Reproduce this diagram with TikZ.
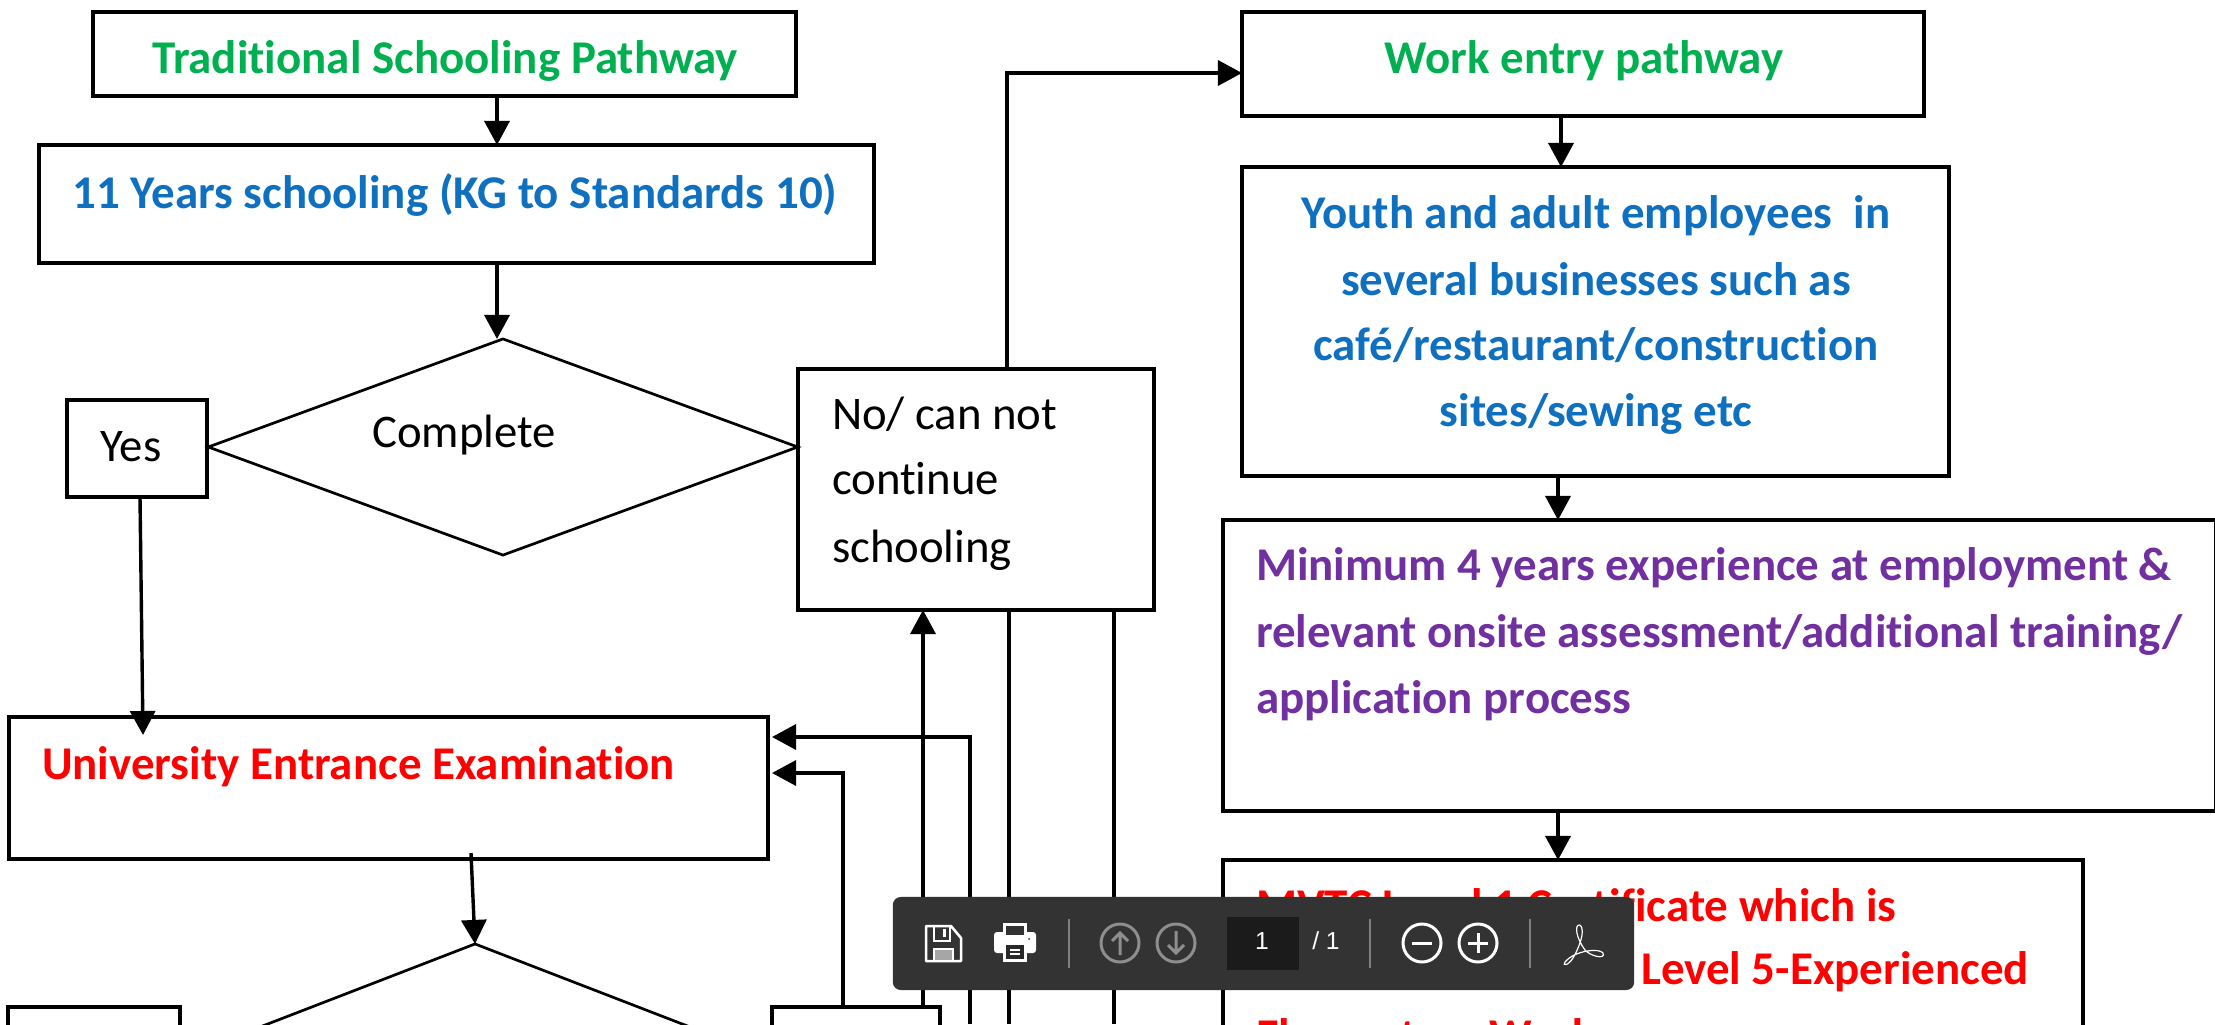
\documentclass[tikz,border=0pt]{standalone}
\usepackage{fontspec}
\setmainfont{Carlito}[Ligatures=CommonOff]
\newfontfamily\uifont{Liberation Sans}
\usetikzlibrary{arrows.meta,shapes.geometric}
\definecolor{cgreen}{HTML}{00B050}
\definecolor{cblue}{HTML}{0F70C0}
\definecolor{cpurple}{HTML}{7030A0}
\definecolor{cred}{HTML}{FF0000}
\definecolor{bar}{HTML}{333333}
\definecolor{bardark}{HTML}{1B1B1B}
\definecolor{bargrey}{HTML}{8E8E8E}
\newcommand\pxbox[5]{%
  \pgfmathsetmacro\pxw{(#4-#2)*0.01}%
  \pgfmathsetmacro\pxh{(#5-#3)*0.01}%
  \node[boxst,minimum width=\pxw cm,minimum height=\pxh cm] (#1) at ({(#2+#4)/2},{(#3+#5)/2}) {};}
\tikzset{
  x=0.01cm,y=-0.01cm,
  boxst/.style={draw=black,fill=white,line width=0.032cm,inner sep=0pt,outer sep=0pt},
  dia/.style={diamond,draw=black,fill=white,line width=0.027cm,inner sep=0pt,outer sep=0pt,aspect=2.7},
  arr/.style={line width=0.034cm,-{Triangle[length=0.24cm,width=0.25cm]}},
  lin/.style={line width=0.034cm},
  head/.style={font=\fontsize{13.35}{16}\selectfont\bfseries,inner sep=0pt,outer sep=0pt},
  body/.style={font=\fontsize{13.3}{16}\selectfont,inner sep=0pt,outer sep=0pt,text=black},
  barline/.style={draw=white,line width=0.03cm},
  bargreyline/.style={draw=bargrey,line width=0.03cm},
  sep/.style={draw=gray,line width=0.012cm},
  uitext/.style={text=white,inner sep=0pt,font=\uifont\fontsize{7}{8}\selectfont},
}
\begin{document}
\begin{tikzpicture}
\useasboundingbox (0,0) rectangle (2215,1024);
\clip (0,0) rectangle (2215,1024);
\fill[white] (0,0) rectangle (2215,1024);
% boxes
\pxbox{trad}{93}{12}{796}{96}
\pxbox{years}{39}{145}{874}{263}
\pxbox{yes}{67}{400}{207}{497}
\pxbox{no}{798}{369}{1154}{610}
\pxbox{work}{1242}{12}{1924}{116}
\pxbox{youth}{1242}{167}{1949}{476}
\pxbox{minexp}{1223}{520}{2216}{811}
\pxbox{mvtc}{1223}{860}{2083}{1120}
\pxbox{uni}{9}{717}{768}{859}
\pxbox{yesb}{8}{1007}{180}{1110}
\pxbox{nob}{772}{1007}{940}{1110}
\node[dia,minimum width=5.89cm,minimum height=2.16cm] (comp) at (503,447) {};
\node[dia,minimum width=5.85cm,minimum height=2.26cm] (dia2) at (475,1057) {};
% free ends
\coordinate (c1) at (970,1024);
\coordinate (c2) at (1009,1024);
\coordinate (c3) at (1114,1024);
\coordinate (c4) at (143,735);
% connectors
\draw[arr] (trad.south -| 497,0) -- (years.north -| 497,0);
\draw[arr] (years.south -| 497,0) -- (comp.north -| 497,0);
\draw[arr] (yes.south -| 140,0) -- (c4);
\draw[arr] (uni.south -| 471,0) ++(0,-6) -- (dia2.north);
\draw[arr] (nob.north -| 923,0) -- (no.south -| 923,0);
\draw[arr,shorten >=0.04cm] (c1) |- (uni.east |- 0,737);
\draw[arr,shorten >=0.04cm] (nob.north -| 843,0) |- (uni.east |- 0,773);
\draw[lin] (no.south -| 1009,0) -- (c2);
\draw[lin] (no.south -| 1114,0) -- (c3);
\draw[arr] (no.north -| 1007,0) |- (work.west |- 0,73);
\draw[arr] (work.south -| 1561,0) -- (youth.north -| 1561,0);
\draw[arr] (youth.south -| 1558,0) -- (minexp.north -| 1558,0);
\draw[arr] (minexp.south -| 1558,0) -- (mvtc.north -| 1558,0);
% texts
\node[head,text=cgreen] (t1) at (445,61) {Traditional Schooling Pathway};
\node[head,text=cblue] (t2) at (455,195) {11 Years schooling (KG to Standards 10)};
\node[body] (t3) at (464,435) {Complete};
\node[body] (t4) at (131,447) {Yes};
\node[body,anchor=west] (t5) at (832,414) {No/ can not};
\node[body,anchor=west] (t6) at (832,479) {continue};
\node[body,anchor=west] (t7) at (832,550) {schooling};
\node[head,text=cgreen] (t8) at (1584,61) {Work entry pathway};
\node[head,text=cblue] (t9) at (1596,216) {Youth and adult employees\ \ in};
\node[head,text=cblue] (t10) at (1596,279) {several businesses such as};
\node[head,text=cblue] (t11) at (1596,345) {café/restaurant/construction};
\node[head,text=cblue] (t12) at (1596,414) {sites/sewing etc};
\node[head,text=cpurple,anchor=west] (t13) at (1256,568) {Minimum 4 years experience at employment \&};
\node[head,text=cpurple,anchor=west] (t14) at (1256,635) {relevant onsite assessment/additional training/};
\node[head,text=cpurple,anchor=west] (t15) at (1256,701) {application process};
\node[head,text=cred,anchor=west] (t16) at (42,767) {University Entrance Examination};
\node[head,text=cred,anchor=west] (t17) at (1256,905) {MVTC Level 1 Certificate which is};
\node[head,text=cred,anchor=east] (t18) at (2029,972) {Level 5-Experienced};
\node[head,text=cred,anchor=west] (t19) at (1256,1039) {Elementary Worker};
% viewer toolbar
\node[fill=bar,rounded corners=0.08cm,minimum width=7.41cm,minimum height=0.93cm,inner sep=0pt] (toolbar) at (1263.5,943.5) {};
% save icon
\draw[white,line width=0.025cm,line join=round] (926,926) -- (951,926) -- (961,938) -- (961,961) -- (926,961) -- cycle;
\draw[white,line width=0.02cm] (934,926) rectangle (950,941);
\fill[white] (943,929) rectangle (946,937);
\draw[white,line width=0.02cm,fill=gray!70] (934,949) rectangle (953,961);
% print icon
\fill[white,rounded corners=0.03cm] (994,932) rectangle (1036,953);
\fill[white] (1003,923) rectangle (1027,938);
\fill[bar] (1006,926) rectangle (1024,935);
\fill[white] (1003,942) rectangle (1027,962);
\fill[bar!80!black] (1006,945) rectangle (1024,959);
\fill[white] (1010,949) rectangle (1020,951);
\fill[white] (1010,953) rectangle (1020,955);
\fill[bar] (1029,939) circle (1);
\draw[sep] (1069,919) -- (1069,968);
% up / down
\draw[bargreyline] (1120,943) circle (19);
\draw[bargreyline] (1120,955) -- (1120,933) (1112,941) -- (1120,933) -- (1128,941);
\draw[bargreyline] (1176,943) circle (19);
\draw[bargreyline] (1176,931) -- (1176,953) (1168,945) -- (1176,953) -- (1184,945);
% page box
\fill[bardark] (1227,917) rectangle (1299,970);
\node[uitext] (pg) at (1262,941) {1};
\node[uitext] (pgs) at (1326,941) {/ 1};
\draw[sep] (1370,919) -- (1370,968);
% zoom
\draw[barline] (1422,943) circle (19);
\draw[barline] (1412,943) -- (1432,943);
\draw[barline] (1478,943) circle (19);
\draw[barline] (1468,943) -- (1488,943) (1478,933) -- (1478,953);
\draw[sep] (1530,919) -- (1530,968);
% acrobat logo
\draw[white,line width=0.012cm] (1580,925) .. controls (1574,924) and (1576,938) .. (1585,950)
  .. controls (1590,956) and (1606,960) .. (1603,953)
  .. controls (1600,948) and (1575,950) .. (1565,962)
  .. controls (1562,966) and (1568,966) .. (1573,958)
  .. controls (1579,948) and (1586,930) .. (1580,925);
\end{tikzpicture}
\end{document}
